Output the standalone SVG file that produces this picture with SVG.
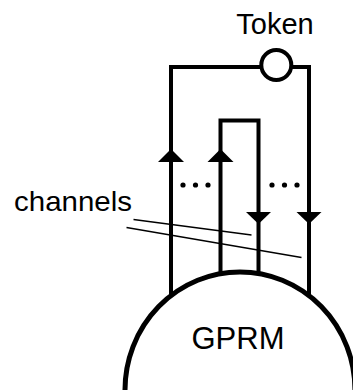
<svg xmlns="http://www.w3.org/2000/svg" width="353" height="390" viewBox="0 0 353 390">
  <style>
    .wire { fill: none; stroke: #000; stroke-width: 4; stroke-linejoin: miter; stroke-linecap: butt; }
    .ptr { fill: none; stroke: #000; stroke-width: 1.3; }
    .head { fill: #000; stroke: none; }
    .dot { fill: #000; }
    .lbl { font-family: "Liberation Sans", Arial, sans-serif; fill: #000; }
  </style>
  <rect width="353" height="390" fill="#fff"/>
  <g id="connectors">
    <path class="wire" d="M171,296 V67 H309 V296"/>
    <path class="wire" d="M220.5,274 V120.5 H258.5 V274"/>
    <polygon class="head" points="171,149 158,162 184,162"/>
    <polygon class="head" points="220.5,149 207.5,162 233.5,162"/>
    <polygon class="head" points="258.5,224 246,212 271,212"/>
    <polygon class="head" points="309,224 296.5,212 321.5,212"/>
    <circle class="dot" cx="183" cy="185" r="2.6"/>
    <circle class="dot" cx="195.5" cy="185" r="2.6"/>
    <circle class="dot" cx="208" cy="185" r="2.6"/>
    <circle class="dot" cx="272" cy="185" r="2.6"/>
    <circle class="dot" cx="284.5" cy="185" r="2.6"/>
    <circle class="dot" cx="297" cy="185" r="2.6"/>
    <line class="ptr" x1="133.5" y1="219.5" x2="251.5" y2="235"/>
    <line class="ptr" x1="126.5" y1="227.5" x2="301.5" y2="257.5"/>
  </g>
  <g id="token">
    <circle cx="276.3" cy="65" r="15" fill="#fff" stroke="#000" stroke-width="4"/>
    <text class="lbl" x="275" y="33.5" font-size="29" text-anchor="middle">Token</text>
  </g>
  <g id="channels">
    <text class="lbl" x="14" y="211" font-size="28" textLength="118" lengthAdjust="spacingAndGlyphs">channels</text>
  </g>
  <g id="gprm">
    <ellipse cx="240" cy="390" rx="115" ry="118" fill="#fff" stroke="#000" stroke-width="5"/>
    <text class="lbl" x="238" y="349" font-size="31" text-anchor="middle">GPRM</text>
  </g>
</svg>
